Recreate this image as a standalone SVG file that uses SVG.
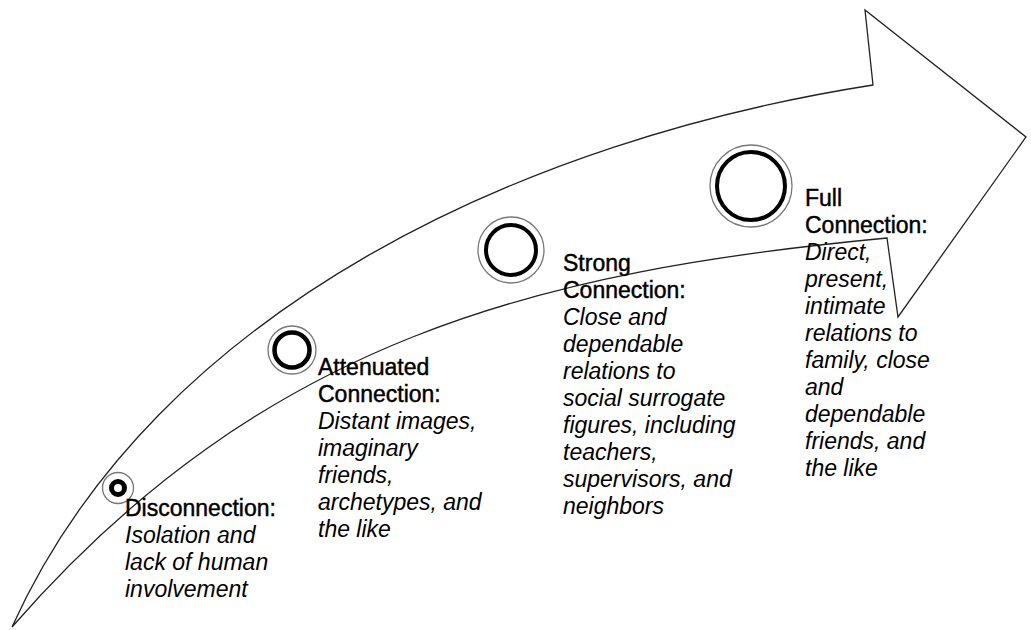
<svg xmlns="http://www.w3.org/2000/svg" width="1031" height="630" viewBox="0 0 1031 630">
  <style>
    .arrow { fill: none; stroke: #222; stroke-width: 1.3; stroke-linejoin: miter; }
    .ring { fill: none; stroke: #777; stroke-width: 1.3; }
    .core { fill: none; stroke: #000; stroke-width: 4; }
    .head { font-family: "Liberation Sans", Arial, sans-serif; font-size: 23px; fill: #000; stroke: #000; stroke-width: 0.45; }
    .body { font-family: "Liberation Sans", Arial, sans-serif; font-size: 23px; font-style: italic; fill: #000; }
  </style>
  <rect width="1031" height="630" fill="#fff"/>

  <g id="connectors">
    <path class="arrow" d="M12,627 C157,306 528,139 873,85 L865,10 L1026,137 L898,317 L887,238 C540,271 264,338 12,627 Z"/>
  </g>

  <g id="node-disconnection">
    <circle class="ring" cx="118" cy="488" r="15.5"/>
    <circle class="core" cx="118" cy="488" r="6.5" style="stroke-width:5"/>
    <text class="head" x="125" y="516">Disconnection:</text>
    <text class="body" x="125">
      <tspan x="125" y="543">Isolation and</tspan>
      <tspan x="125" y="570">lack of human</tspan>
      <tspan x="125" y="597">involvement</tspan>
    </text>
  </g>

  <g id="node-attenuated">
    <circle class="ring" cx="292" cy="350" r="24"/>
    <circle class="core" cx="292" cy="350" r="17.5" style="stroke-width:4.5"/>
    <text class="head">
      <tspan x="318" y="375">Attenuated</tspan>
      <tspan x="318" y="402">Connection:</tspan>
    </text>
    <text class="body">
      <tspan x="318" y="429">Distant images,</tspan>
      <tspan x="318" y="456">imaginary</tspan>
      <tspan x="318" y="483">friends,</tspan>
      <tspan x="318" y="510">archetypes, and</tspan>
      <tspan x="318" y="537">the like</tspan>
    </text>
  </g>

  <g id="node-strong">
    <circle class="ring" cx="511" cy="250" r="33"/>
    <circle class="core" cx="511" cy="250" r="25"/>
    <text class="head">
      <tspan x="563" y="271">Strong</tspan>
      <tspan x="563" y="298">Connection:</tspan>
    </text>
    <text class="body">
      <tspan x="563" y="325">Close and</tspan>
      <tspan x="563" y="352">dependable</tspan>
      <tspan x="563" y="379">relations to</tspan>
      <tspan x="563" y="406">social surrogate</tspan>
      <tspan x="563" y="433">figures, including</tspan>
      <tspan x="563" y="460">teachers,</tspan>
      <tspan x="563" y="487">supervisors, and</tspan>
      <tspan x="563" y="514">neighbors</tspan>
    </text>
  </g>

  <g id="node-full">
    <circle class="ring" cx="751" cy="186" r="41"/>
    <circle class="core" cx="751" cy="186" r="34"/>
    <text class="head">
      <tspan x="805" y="206">Full</tspan>
      <tspan x="805" y="233">Connection:</tspan>
    </text>
    <text class="body">
      <tspan x="805" y="260">Direct,</tspan>
      <tspan x="805" y="287">present,</tspan>
      <tspan x="805" y="314">intimate</tspan>
      <tspan x="805" y="341">relations to</tspan>
      <tspan x="805" y="368">family, close</tspan>
      <tspan x="805" y="395">and</tspan>
      <tspan x="805" y="422">dependable</tspan>
      <tspan x="805" y="449">friends, and</tspan>
      <tspan x="805" y="476">the like</tspan>
    </text>
  </g>
</svg>
